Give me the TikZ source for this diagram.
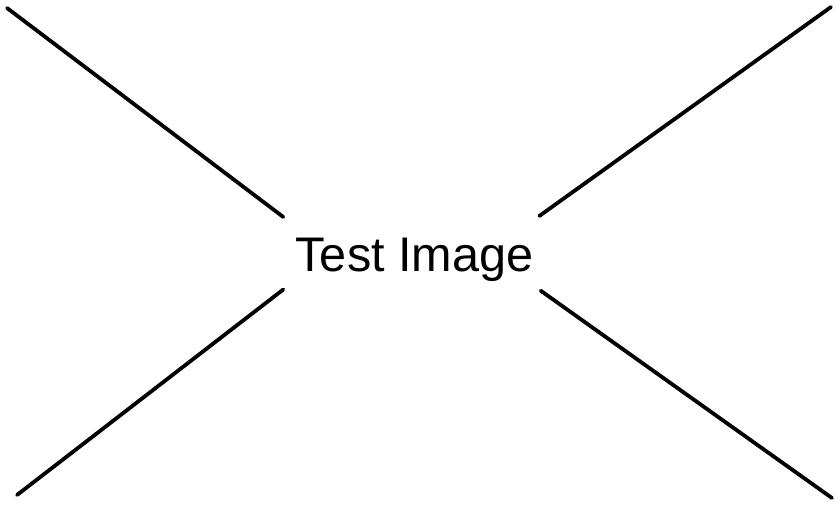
\documentclass[tikz,border=0pt]{standalone}
\usepackage{fontspec}
\setmainfont{Liberation Sans}
\usepackage{tikz}

\begin{document}
\begin{tikzpicture}[x=1pt,y=-1pt]
				\tikzstyle{every node}+=[inner sep=0pt]
				\tikzstyle{cross}=[black, line width=3.8pt, line cap=round]
				\useasboundingbox (0,0) rectangle (840,508);
				\node [anchor=base, font=\fontsize{48.6}{58}\selectfont] (title) at (414.5,271.7) {Test Image};
				\coordinate (tl) at (7,8);
				\coordinate (tr) at (831,7);
				\coordinate (bl) at (17,495);
				\coordinate (br) at (832,498);
				\coordinate (tlin) at (283.3,217);
				\coordinate (trin) at (539.3,216);
				\coordinate (blin) at (283.3,289.5);
				\coordinate (brin) at (540.7,290.7);
				\draw [cross] (tl) -- (tlin);
				\draw [cross] (tr) -- (trin);
				\draw [cross] (bl) -- (blin);
				\draw [cross] (br) -- (brin);
			\end{tikzpicture}
\end{document}
